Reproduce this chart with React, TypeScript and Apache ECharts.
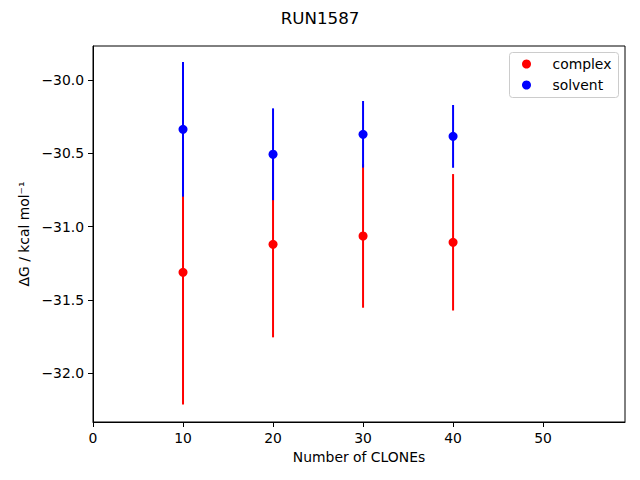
import React, { useEffect, useRef } from "react";
import * as echarts from "echarts";

const clones = [10, 20, 30, 40];
const complexMean = [-31.311, -31.12, -31.063, -31.106];
const complexErr = [0.9, 0.634, 0.489, 0.465];
const solventMean = [-30.336, -30.506, -30.37, -30.384];
const solventErr = [0.459, 0.313, 0.227, 0.214];
const yTicks = [-32.0, -31.5, -31.0, -30.5, -30.0];
const xTicks = [0, 10, 20, 30, 40, 50];

const FONT = "DejaVu Sans";

function errSeries(name: string, means: number[], errs: number[], color: string) {
  return {
    type: "custom",
    name,
    data: clones.map((x, i) => [x, means[i] - errs[i], means[i] + errs[i]]),
    renderItem: (params: any, api: any) => {
      const p1 = api.coord([api.value(0), api.value(1)]);
      const p2 = api.coord([api.value(0), api.value(2)]);
      return {
        type: "line",
        shape: { x1: p1[0], y1: p1[1], x2: p2[0], y2: p2[1] },
        style: { stroke: color, lineWidth: 2 },
      };
    },
    encode: { x: 0, y: [1, 2] },
    silent: true,
  };
}

export default function App() {
  const ref = useRef<HTMLDivElement>(null);
  useEffect(() => {
    if (!ref.current) return;
    const chart = echarts.init(ref.current, null, { renderer: "svg" });
    chart.setOption({
      animation: false,
      textStyle: { fontFamily: FONT },
      title: {
        text: "RUN1587",
        left: "center",
        top: 4,
        textStyle: { fontFamily: FONT, fontSize: 16.7, fontWeight: "normal", color: "#000" },
      },
      grid: {
        left: 93,
        right: 15,
        top: 46,
        bottom: 58,
        show: true,
        borderColor: "#000",
        borderWidth: 1,
        backgroundColor: "transparent",
      },
      legend: {
        data: ["complex", "solvent"],
        orient: "vertical",
        left: 522,
        top: 56,
        itemWidth: 42,
        itemHeight: 9,
        itemGap: 5,
        icon: "circle",
        padding: 0,
        textStyle: { fontFamily: FONT, fontSize: 13.9, color: "#000", lineHeight: 16 },
      },
      graphic: [
        {
          type: "rect",
          shape: { x: 509.5, y: 52.5, width: 109, height: 45, r: 3 },
          style: { fill: "rgba(255,255,255,0.8)", stroke: "#cccccc", lineWidth: 1 },
          z: -1,
        },
      ],
      xAxis: {
        type: "value",
        min: 0,
        max: 59.1,
        interval: 10,
        name: "Number of CLONEs",
        nameLocation: "middle",
        nameGap: 28,
        nameTextStyle: { fontFamily: FONT, fontSize: 13.9, color: "#000" },
        axisLine: { show: true, onZero: false, lineStyle: { color: "#000", width: 1 } },
        axisTick: { show: true, length: 5, lineStyle: { color: "#000" }, customValues: xTicks },
        axisLabel: {
          fontFamily: FONT,
          fontSize: 13.9,
          color: "#000",
          margin: 9,
          customValues: xTicks,
          formatter: (v: number) => String(v),
        },
        splitLine: { show: false },
      },
      yAxis: {
        type: "value",
        min: -32.331,
        max: -29.768,
        name: "ΔG / kcal mol⁻¹",
        nameLocation: "middle",
        nameGap: 58,
        nameTextStyle: { fontFamily: FONT, fontSize: 13.9, color: "#000" },
        axisLine: { show: true, onZero: false, lineStyle: { color: "#000", width: 1 } },
        axisTick: { show: true, length: 5, lineStyle: { color: "#000" }, customValues: yTicks },
        axisLabel: {
          fontFamily: FONT,
          fontSize: 13.9,
          color: "#000",
          margin: 9,
          customValues: yTicks,
          formatter: (v: number) => v.toFixed(1).replace("-", "\u2212"),
        },
        splitLine: { show: false },
      },
      series: [
        errSeries("complex err", complexMean, complexErr, "#ff0000"),
        {
          type: "scatter",
          name: "complex",
          data: clones.map((x, i) => [x, complexMean[i]]),
          symbol: "circle",
          symbolSize: 9,
          itemStyle: { color: "#ff0000", opacity: 1 },
        },
        errSeries("solvent err", solventMean, solventErr, "#0000ff"),
        {
          type: "scatter",
          name: "solvent",
          data: clones.map((x, i) => [x, solventMean[i]]),
          symbol: "circle",
          symbolSize: 9,
          itemStyle: { color: "#0000ff", opacity: 1 },
        },
      ],
    });
    return () => chart.dispose();
  }, []);
  return <div ref={ref} style={{ width: 640, height: 480, position: "absolute", left: 0, top: 0 }} />;
}
